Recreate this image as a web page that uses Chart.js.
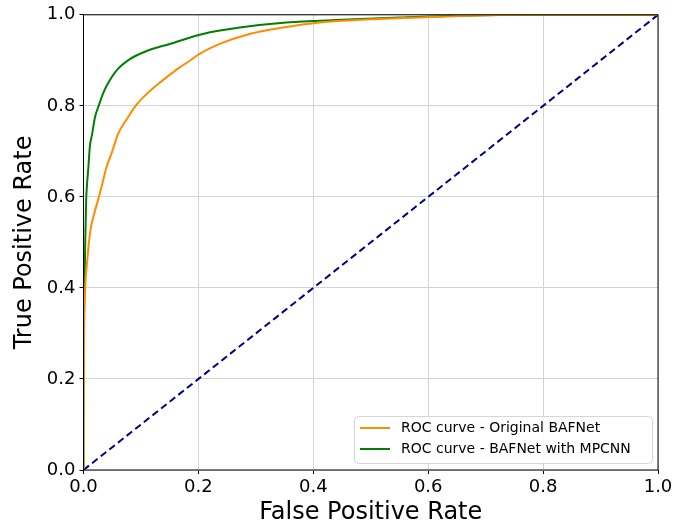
<!DOCTYPE html>
<html>
<head>
<meta charset="utf-8">
<script src="https://cdn.jsdelivr.net/npm/chart.js@4"></script>
<style>
  html, body { margin: 0; padding: 0; background: #fff; }
  #wrap { width: 699px; height: 527px; }
</style>
</head>
<body>
<div id="wrap"><canvas id="rocChart" width="699" height="527"></canvas></div>
<script>
// --- data ---
var seriesLabels = ['ROC curve - Original BAFNet', 'ROC curve - BAFNet with MPCNN'];
var seriesColors = ['#ff8c00', '#008000'];

var fprOriginal = [0, 0, 0.001, 0.003, 0.006, 0.012, 0.018, 0.025, 0.031, 0.040, 0.050, 0.060, 0.075, 0.092, 0.110, 0.130, 0.150, 0.167, 0.185, 0.202, 0.237, 0.289, 0.347, 0.411, 0.50, 0.60, 0.70, 0.80, 1.0];
var tprOriginal = [0, 0.12, 0.30, 0.40, 0.454, 0.526, 0.56, 0.592, 0.62, 0.665, 0.70, 0.738, 0.77, 0.802, 0.826, 0.848, 0.868, 0.884, 0.899, 0.914, 0.936, 0.958, 0.972, 0.983, 0.990, 0.995, 0.999, 1.0, 1.0];

var fprMpcnn = [0, 0, 0.0005, 0.0017, 0.003, 0.0046, 0.006, 0.0085, 0.011, 0.015, 0.020, 0.027, 0.034, 0.042, 0.057, 0.080, 0.109, 0.150, 0.208, 0.272, 0.353, 0.45, 0.55, 0.65, 0.80, 1.0];
var tprMpcnn = [0, 0.20, 0.30, 0.40, 0.50, 0.592, 0.625, 0.665, 0.71, 0.738, 0.775, 0.802, 0.827, 0.848, 0.877, 0.902, 0.920, 0.936, 0.958, 0.972, 0.983, 0.989, 0.994, 0.998, 1.0, 1.0];

var diagX = [0, 1];
var diagY = [0, 1];

function toPoints(xs, ys) {
    return xs.map(function (x, i) { return { x: x, y: ys[i] }; });
}

// --- frame (matplotlib style spines on all sides) ---
var framePlugin = {
    id: 'frame',
    afterDatasetsDraw: function (chart) {
        var a = chart.chartArea, ctx = chart.ctx;
        ctx.save();
        ctx.strokeStyle = '#000';
        ctx.lineWidth = 1;
        ctx.strokeRect(a.left, a.top, a.right - a.left, a.bottom - a.top);
        ctx.restore();
    }
};

// --- legend in the lower right corner of the plot ---
var cornerLegend = {
    id: 'cornerLegend',
    afterDraw: function (chart) {
        var a = chart.chartArea, ctx = chart.ctx;
        var w = 298, h = 47;
        var x = a.right - 6 - w, y = a.bottom - 7 - h;
        ctx.save();
        ctx.fillStyle = 'rgba(255,255,255,0.8)';
        ctx.strokeStyle = '#d6d6d6';
        ctx.lineWidth = 1;
        ctx.beginPath();
        ctx.roundRect(x + 0.5, y + 0.5, w, h, 4);
        ctx.fill();
        ctx.stroke();
        ctx.font = '14px "DejaVu Sans"';
        ctx.textBaseline = 'middle';
        ctx.fillStyle = '#000';
        for (var i = 0; i < seriesLabels.length; i++) {
            var ly = y + 12 + i * 21;
            ctx.strokeStyle = chart.data.datasets[i].borderColor;
            ctx.lineWidth = 2;
            ctx.beginPath();
            ctx.moveTo(x + 6, ly);
            ctx.lineTo(x + 36, ly);
            ctx.stroke();
            ctx.fillText(seriesLabels[i], x + 47, ly);
        }
        ctx.restore();
    }
};

var ctx = document.getElementById('rocChart').getContext('2d');
new Chart(ctx, {
    type: 'line',
    data: {
        datasets: [
            {
                data: toPoints(fprOriginal, tprOriginal),
                borderColor: seriesColors[0],
                borderWidth: 2,
                pointRadius: 0,
                cubicInterpolationMode: 'monotone'
            },
            {
                data: toPoints(fprMpcnn, tprMpcnn),
                borderColor: seriesColors[1],
                borderWidth: 2,
                pointRadius: 0,
                cubicInterpolationMode: 'monotone'
            },
            {
                data: toPoints(diagX, diagY),
                borderColor: '#000080',
                borderWidth: 2,
                borderDash: [7, 4],
                pointRadius: 0
            }
        ]
    },
    options: {
        responsive: false,
        animation: false,
        layout: { padding: { top: 13.5, right: 41, left: 0, bottom: 0 } },
        plugins: {
            legend: { display: false },
            tooltip: { enabled: false }
        },
        scales: {
            x: {
                type: 'linear',
                min: 0, max: 1,
                afterFit: function (scale) { scale.height = 57; },
                grid: { color: '#d4d4d4', tickColor: '#000', tickLength: 4 },
                border: { display: false },
                ticks: {
                    stepSize: 0.2, maxRotation: 0, padding: 3,
                    color: '#000',
                    font: { family: 'DejaVu Sans', size: 18 },
                    callback: function (v) { return v.toFixed(1); }
                },
                title: {
                    display: true, text: 'False Positive Rate', color: '#000',
                    font: { family: 'DejaVu Sans', size: 24 },
                    padding: { top: 0, bottom: 0 }
                }
            },
            y: {
                min: 0, max: 1,
                afterFit: function (scale) { scale.width = 83.5; },
                grid: { color: '#d4d4d4', tickColor: '#000', tickLength: 4 },
                border: { display: false },
                ticks: {
                    stepSize: 0.2, padding: 4,
                    color: '#000',
                    font: { family: 'DejaVu Sans', size: 18 },
                    callback: function (v) { return v.toFixed(1); }
                },
                title: {
                    display: true, text: 'True Positive Rate', color: '#000',
                    font: { family: 'DejaVu Sans', size: 24 },
                    padding: { top: 10, bottom: 0 }
                }
            }
        }
    },
    plugins: [framePlugin, cornerLegend]
});
</script>
</body>
</html>
